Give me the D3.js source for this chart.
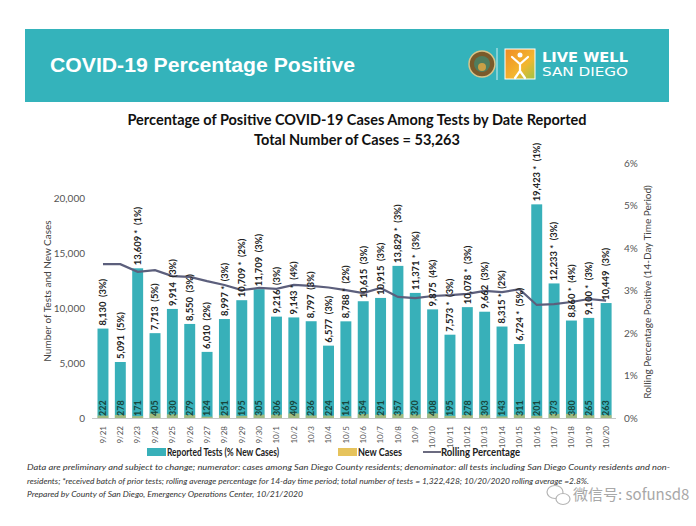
<!DOCTYPE html>
<html><head><meta charset="utf-8">
<script src="https://cdn.jsdelivr.net/npm/d3@7/dist/d3.min.js"></script>
<style>body{margin:0;background:#fff}svg{display:block}</style>
</head><body><svg id="c" width="696" height="526"></svg>
<script>
const dates = ["9/21","9/22","9/23","9/24","9/25","9/26","9/27","9/28","9/29","9/30","10/1","10/2","10/3","10/4","10/5","10/6","10/7","10/8","10/9","10/10","10/11","10/12","10/13","10/14","10/15","10/16","10/17","10/18","10/19","10/20"];
const tests = [8130,5091,13609,7713,9914,8550,6010,8997,10709,11709,9216,9143,8797,6577,8788,10615,10915,13829,11371,9875,7573,10078,9662,8315,6724,19423,12233,8860,9100,10449];
const starred = [0,0,1,0,0,0,0,1,1,0,0,1,0,0,1,0,0,1,1,0,1,1,0,1,1,1,1,1,1,0];
const pctNew = [3,5,1,5,3,3,2,3,2,3,3,4,3,3,2,3,3,3,3,4,3,3,3,2,5,1,3,4,3,3];
const newCases = [222,278,171,405,330,279,124,251,195,305,306,409,236,224,161,354,291,357,320,408,195,278,303,143,311,201,373,380,265,263];
const rolling = [3.62,3.62,3.44,3.48,3.34,3.32,3.22,3.13,3.01,3.06,3.04,3.13,3.11,3.07,3.01,2.94,3.06,2.85,2.82,2.87,2.89,2.92,2.99,2.96,3.03,2.66,2.68,2.73,2.80,2.76];
const leftTicks = [0,5000,10000,15000,20000];
const rightTicks = [0,1,2,3,4,5,6];

const svg = d3.select("#c");
const teal = "#38b0b9";

// Header band
svg.append("rect").attr("x",25).attr("y",29).attr("width",644).attr("height",73).attr("fill","#34b3bb");
svg.append("text").attr("x",50).attr("y",72).attr("fill","#fff")
  .attr("font-family","Liberation Sans, Arial, sans-serif").attr("font-weight","bold").attr("font-size",21)
  .attr("textLength",305).attr("lengthAdjust","spacingAndGlyphs")
  .text("COVID-19 Percentage Positive");
// logos
const lg = svg.append("g");
lg.append("circle").attr("cx",482).attr("cy",64).attr("r",13).attr("fill","#7a5a2a").attr("stroke","#d8c48a").attr("stroke-width",1.5);
lg.append("circle").attr("cx",482).attr("cy",64).attr("r",8).attr("fill","#4f7d5e");
lg.append("circle").attr("cx",482).attr("cy",67).attr("r",4).attr("fill","#c9a046");
lg.append("line").attr("x1",497).attr("x2",497).attr("y1",48).attr("y2",80).attr("stroke","#cfeff1").attr("stroke-width",1);
const grad = svg.append("defs").append("linearGradient").attr("id","lw").attr("x1",0).attr("y1",0).attr("x2",1).attr("y2",1);
grad.append("stop").attr("offset","0%").attr("stop-color","#f08a24");
grad.append("stop").attr("offset","60%").attr("stop-color","#f3b72f");
grad.append("stop").attr("offset","100%").attr("stop-color","#9cc447");
lg.append("rect").attr("x",505).attr("y",49).attr("width",30).attr("height",30).attr("fill","url(#lw)").attr("stroke","#fff").attr("stroke-width",1);
lg.append("path").attr("d","M512 57 L520 64 L528 57 M520 64 L520 71 L515 78 M520 71 L525 78").attr("stroke","#fff").attr("stroke-width",2.2).attr("fill","none").attr("stroke-linecap","round");
lg.append("circle").attr("cx",520).attr("cy",55).attr("r",2.5).attr("fill","#fff");
lg.append("text").attr("x",542).attr("y",62).attr("fill","#fff").attr("font-family","DejaVu Sans, sans-serif").attr("font-size",14).attr("font-weight","bold").attr("textLength",86).attr("lengthAdjust","spacingAndGlyphs").text("LIVE WELL");
lg.append("text").attr("x",542).attr("y",76).attr("fill","#fff").attr("font-family","DejaVu Sans, sans-serif").attr("font-size",12.5).attr("textLength",86).attr("lengthAdjust","spacingAndGlyphs").text("SAN DIEGO");

// Titles
const tf = "Lato, 'Open Sans', sans-serif";
svg.append("text").attr("x",357).attr("y",125).attr("text-anchor","middle").attr("font-family",tf).attr("font-weight","bold").attr("font-size",14.5).attr("fill","#111")
  .text("Percentage of Positive COVID-19 Cases Among Tests by Date Reported");
svg.append("text").attr("x",357).attr("y",145).attr("text-anchor","middle").attr("font-family",tf).attr("font-weight","bold").attr("font-size",14.5).attr("fill","#111")
  .text("Total Number of Cases = 53,263");

// Scales
const x = d3.scaleBand().domain(dates).range([94.3,614.8]).paddingInner(0.37).paddingOuter(0.185);
const yL = d3.scaleLinear().domain([0,20000]).range([418,198]);
const yR = d3.scaleLinear().domain([0,6]).range([418,163]);

// Axes
const axL = svg.append("g").attr("transform","translate(92,0)").call(d3.axisLeft(yL).tickValues(leftTicks).tickSize(0).tickPadding(7).tickFormat(d3.format(",")));
axL.select(".domain").remove();
axL.selectAll("text").attr("font-family",tf).attr("font-size",10).attr("fill","#555");
const axR = svg.append("g").attr("transform","translate(617,0)").call(d3.axisRight(yR).tickValues(rightTicks).tickSize(0).tickPadding(7).tickFormat(d=>d+"%"));
axR.select(".domain").remove();
axR.selectAll("text").attr("font-family",tf).attr("font-size",10).attr("fill","#555");

svg.append("text").attr("transform","translate(51,291) rotate(-90)").attr("text-anchor","middle").attr("font-family",tf).attr("font-size",10).attr("fill","#444").text("Number of Tests and New Cases");
svg.append("text").attr("transform","translate(651,292) rotate(-90)").attr("text-anchor","middle").attr("font-family",tf).attr("font-size",10).attr("fill","#444").text("Rolling Percentage Positive (14-Day Time Period)");

// Bars
const bw = x.bandwidth();
svg.append("g").selectAll("rect").data(dates).join("rect")
  .attr("x",d=>x(d)).attr("width",bw)
  .attr("y",(d,i)=>yL(tests[i])).attr("height",(d,i)=>yL(0)-yL(tests[i]))
  .attr("fill",teal);
svg.append("g").selectAll("rect").data(dates).join("rect")
  .attr("x",d=>x(d)).attr("width",bw)
  .attr("y",(d,i)=>yL(newCases[i])).attr("height",(d,i)=>yL(0)-yL(newCases[i]))
  .attr("fill","#e6c35c").attr("opacity",0.6);

// baseline
svg.append("line").attr("x1",92).attr("x2",616).attr("y1",418.5).attr("y2",418.5).attr("stroke","#c8c8c8");

// Rolling line
const line = d3.line().x((d,i)=>x(dates[i])+bw/2).y(d=>yR(d));
svg.append("path").datum(rolling).attr("d",line).attr("fill","none").attr("stroke","#5c5f7c").attr("stroke-width",2.2);

// Bar labels
const fmt = d3.format(",");
svg.append("g").selectAll("text").data(dates).join("text")
  .attr("transform",(d,i)=>`translate(${x(d)+bw/2+3.3},${yL(tests[i])-3}) rotate(-90)`)
  .attr("font-family",tf).attr("font-weight","bold").attr("font-size",9.4).attr("fill","#222")
  .attr("xml:space","preserve")
  .text((d,i)=>`${fmt(tests[i])}${starred[i]?" *":""}  (${pctNew[i]}%)`);
svg.append("g").selectAll("text").data(dates).join("text")
  .attr("transform",(d,i)=>`translate(${x(d)+bw/2+3.2},${416}) rotate(-90)`)
  .attr("font-family",tf).attr("font-weight","bold").attr("font-size",9).attr("fill","#17463b")
  .text((d,i)=>newCases[i]);

// X labels
svg.append("g").selectAll("text").data(dates).join("text")
  .attr("transform",d=>`translate(${x(d)+bw/2+2.8},${426}) rotate(-90)`)
  .attr("text-anchor","end").attr("font-family",tf).attr("font-size",8).attr("fill","#555")
  .text(d=>d);

// Legend
const leg = svg.append("g").attr("font-family",tf).attr("font-weight","bold").attr("font-size",10.5).attr("fill","#222");
leg.append("rect").attr("x",147).attr("y",448).attr("width",19).attr("height",8).attr("fill",teal);
leg.append("text").attr("x",167).attr("y",456).attr("textLength",112).attr("lengthAdjust","spacingAndGlyphs").text("Reported Tests (% New Cases)");
leg.append("rect").attr("x",338).attr("y",448).attr("width",19).attr("height",8).attr("fill","#e6c35c");
leg.append("text").attr("x",358).attr("y",456).attr("textLength",44).attr("lengthAdjust","spacingAndGlyphs").text("New Cases");
leg.append("line").attr("x1",423).attr("x2",441).attr("y1",452).attr("y2",452).attr("stroke","#6b6b80").attr("stroke-width",2);
leg.append("text").attr("x",441).attr("y",456).attr("textLength",79).attr("lengthAdjust","spacingAndGlyphs").text("Rolling Percentage");

// Footnote
const foot = ["Data are preliminary and subject to change; numerator: cases among San Diego County residents; denominator: all tests including San Diego County residents and non-",
"residents; *received batch of prior tests; rolling average percentage for 14-day time period; total number of tests = 1,322,428; 10/20/2020 rolling average =2.8%.",
"Prepared by County of San Diego, Emergency Operations Center, 10/21/2020"];
const footW = [643, 562, 276];
svg.append("g").selectAll("text").data(foot).join("text")
  .attr("x",27).attr("y",(d,i)=>470+i*13.5)
  .attr("font-family",tf).attr("font-style","italic").attr("font-size",8.2).attr("fill","#333")
  .attr("textLength",(d,i)=>footW[i]).attr("lengthAdjust","spacingAndGlyphs")
  .text(d=>d);

// Watermark
const wm = svg.append("g").attr("stroke","#b5b5b5").attr("fill","none").attr("stroke-width",1.2);
wm.append("ellipse").attr("cx",555).attr("cy",492).attr("rx",8).attr("ry",6.5);
wm.append("ellipse").attr("cx",563).attr("cy",499).attr("rx",7).attr("ry",5.5).attr("fill","#fff");
svg.append("text").attr("x",573).attr("y",500).attr("font-family","'Noto Sans CJK SC', sans-serif").attr("font-size",15).attr("fill","#a8a8a8").text("微信号: sofunsd8");
</script></body></html>
